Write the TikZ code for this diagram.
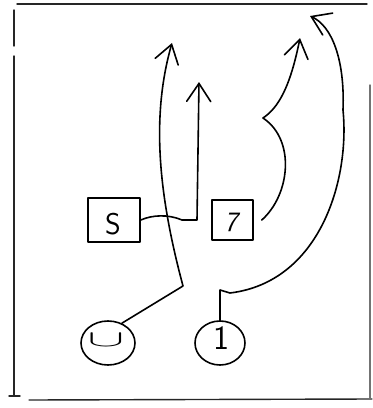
\documentclass[tikz,border=0pt]{standalone}
\usetikzlibrary{arrows.meta,shapes.geometric}
\begin{document}
\begin{tikzpicture}[x=1pt,y=-1pt,
  ink/.style={line width=1.6pt,line cap=round,line join=round},
  arr/.style={ink,-{Straight Barb[length=18pt,width=24pt,line cap=round]}},
  box/.style={draw,ink,inner sep=0pt},
  circ/.style={draw,ink,ellipse,inner sep=0pt},
  frame/.style={line width=1.4pt,black!85,line cap=round},
  lbl/.style={font=\sffamily\fontsize{30}{30}\selectfont,inner sep=0pt}]
\useasboundingbox (0,0) rectangle (373,408);
% frame
\draw[frame] (17,4) -- (367,4);
\draw[frame] (14,10) -- (14,46);
\draw[frame] (14,56) -- (14,396);
\draw[frame] (9,396) -- (20,396);
\draw[frame] (29,400) -- (372,399);
\draw[frame,black!55] (370,85) -- (370,398);
% players
\node[box,minimum width=52pt,minimum height=44pt] (S) at (114,220) {};
\node[lbl] (St) at (113,224) {S};
\node[box,minimum width=41pt,minimum height=40pt] (D) at (232.5,220) {};
\node[lbl,font=\sffamily\slshape\fontsize{28}{28}\selectfont] (Dt) at (231,222) {7};
\node[circ,minimum width=54pt,minimum height=44pt] (L) at (108,343) {};
\node[inner sep=0pt] (Lt) at (106,340) {\scalebox{5.5}[2.3]{$\cup$}};
\node[circ,minimum width=50pt,minimum height=44pt] (R) at (220,343) {};
\node[lbl,font=\sffamily\fontsize{34}{34}\selectfont] (Rt) at (221,338) {1};
% route ends
\coordinate (A1) at (172,43);
\coordinate (B1) at (199,82);
\coordinate (C1) at (310,16);
\coordinate (D1) at (300,38);
% routes
\draw[arr] (L.55) -- (183,286) .. controls (160,200) and (150,120) .. (A1);
\draw[arr] (S.east) .. controls (152,215) and (168,214) .. (182,220) -- (197,220) -- (B1);
\draw[arr] (R.north) -- (220,290) -- (230,293) .. controls (320,282) and (350,180) .. (343,110) .. controls (345,60) and (332,26) .. (C1);
\draw[arr] ([xshift=8pt]D.east) .. controls (290,195) and (296,140) .. (263,118) .. controls (278,108) and (290,88) .. (D1);
\end{tikzpicture}
\end{document}
